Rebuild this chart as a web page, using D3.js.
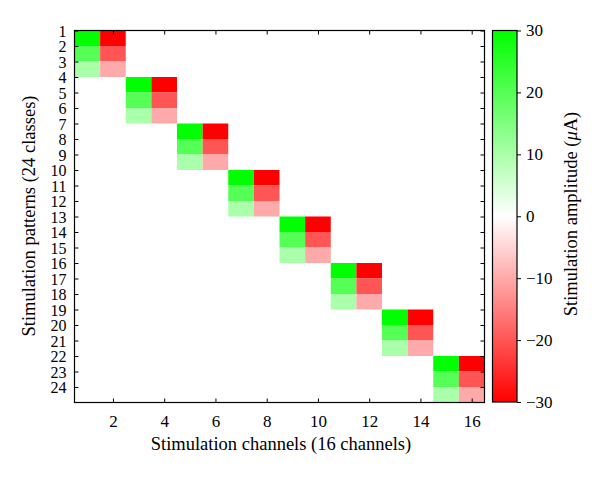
<!DOCTYPE html>
<html>
<head>
<meta charset="utf-8">
<script src="https://cdn.jsdelivr.net/npm/d3@7"></script>
<style>
  body { margin: 0; background: #fff; }
  text { font-family: "Liberation Serif", "DejaVu Serif", serif; fill: #000; }
</style>
</head>
<body>
<svg id="chart" width="600" height="480"></svg>
<script>
// Stimulation patterns (rows) and channels (columns)
const patterns = d3.range(1, 25);
const channels = d3.range(1, 17);
// For each pattern: channel receiving positive amplitude, channel receiving negative amplitude
const posChannel = [1,1,1, 3,3,3, 5,5,5, 7,7,7, 9,9,9, 11,11,11, 13,13,13, 15,15,15];
const negChannel = [2,2,2, 4,4,4, 6,6,6, 8,8,8, 10,10,10, 12,12,12, 14,14,14, 16,16,16];
const posAmp = [30,20,10, 30,20,10, 30,20,10, 30,20,10, 30,20,10, 30,20,10, 30,20,10, 30,20,10];
const negAmp = [-30,-20,-10, -30,-20,-10, -30,-20,-10, -30,-20,-10, -30,-20,-10, -30,-20,-10, -30,-20,-10, -30,-20,-10];
const xTicks = [2,4,6,8,10,12,14,16];
const cbTicks = [30,20,10,0,-10,-20,-30];

const cells = [];
patterns.forEach((p, i) => {
  cells.push({p, c: posChannel[i], v: posAmp[i]});
  cells.push({p, c: negChannel[i], v: negAmp[i]});
});

const svg = d3.select("#chart");
const L = 74.5, R = 484.5, T = 30.5, B = 402.5;
const x = d3.scaleLinear().domain([0.5, 16.5]).range([L, R]);
const y = d3.scaleLinear().domain([1, 25]).range([T, B]);
const color = d3.scaleLinear().domain([-30, 0, 30]).range(["#ff0000", "#ffffff", "#00ff00"]);

// cells
svg.append("g").selectAll("rect").data(cells).join("rect")
  .attr("x", d => x(d.c - 0.5))
  .attr("y", d => y(d.p))
  .attr("width", d => x(d.c + 0.5) - x(d.c - 0.5))
  .attr("height", d => y(d.p + 1) - y(d.p))
  .attr("fill", d => color(d.v));

// axes (ticks inward, mirrored)
const tl = 4;
const axB = svg.append("g").attr("transform", `translate(0,${B})`)
  .call(d3.axisBottom(x).tickValues(xTicks).tickSize(-tl).tickPadding(12).tickSizeOuter(0));
const axT = svg.append("g").attr("transform", `translate(0,${T})`)
  .call(d3.axisTop(x).tickValues(xTicks).tickSize(-tl).tickFormat("").tickSizeOuter(0));
const axL = svg.append("g").attr("transform", `translate(${L},0)`)
  .call(d3.axisLeft(y).tickValues(patterns).tickSize(-tl).tickPadding(8).tickSizeOuter(0));
const axR = svg.append("g").attr("transform", `translate(${R},0)`)
  .call(d3.axisRight(y).tickValues(patterns).tickSize(-tl).tickFormat("").tickSizeOuter(0));
[axB, axT, axL, axR].forEach(g => {
  g.select(".domain").remove();
  g.selectAll("line").attr("stroke", "#000");
  g.selectAll("text").style("font-size", "17px").attr("font-family", null);
});
axL.selectAll("text").style("font-size", "16px").attr("dy", "0.36em");

svg.append("rect").attr("x", L).attr("y", T).attr("width", R - L).attr("height", B - T)
  .attr("fill", "none").attr("stroke", "#000").attr("stroke-width", 1.2);

// colorbar
const cbL = 492.5, cbR = 517, cbT = 30.5, cbB = 402;
const cy = d3.scaleLinear().domain([-30, 30]).range([cbB, cbT]);
const defs = svg.append("defs");
const grad = defs.append("linearGradient").attr("id", "cbgrad")
  .attr("x1", 0).attr("y1", 1).attr("x2", 0).attr("y2", 0);
[-30, 0, 30].forEach(v => {
  grad.append("stop").attr("offset", (v + 30) / 60).attr("stop-color", color(v));
});
svg.append("rect").attr("x", cbL).attr("y", cbT).attr("width", cbR - cbL).attr("height", cbB - cbT)
  .attr("fill", "url(#cbgrad)").attr("stroke", "#000").attr("stroke-width", 1.2);
const axC = svg.append("g").attr("transform", `translate(${cbR},0)`)
  .call(d3.axisRight(cy).tickValues(cbTicks).tickSize(4).tickPadding(5).tickSizeOuter(0));
axC.select(".domain").remove();
axC.selectAll("line").attr("stroke", "#000");
axC.selectAll("text").style("font-size", "17px").attr("font-family", null);

// titles
svg.append("text").attr("x", 281).attr("y", 450).attr("text-anchor", "middle")
  .style("font-size", "18.5px").text("Stimulation channels (16 channels)");
svg.append("text").attr("transform", "translate(35,216) rotate(-90)").attr("text-anchor", "middle")
  .style("font-size", "18.5px").text("Stimulation patterns (24 classes)");
const cbt = svg.append("text").attr("transform", "translate(577,214) rotate(-90)").attr("text-anchor", "middle")
  .style("font-size", "18.5px");
cbt.append("tspan").text("Stimulation amplitude (");
cbt.append("tspan").style("font-style", "italic").text("μ");
cbt.append("tspan").text("A)");
</script>
</body>
</html>
